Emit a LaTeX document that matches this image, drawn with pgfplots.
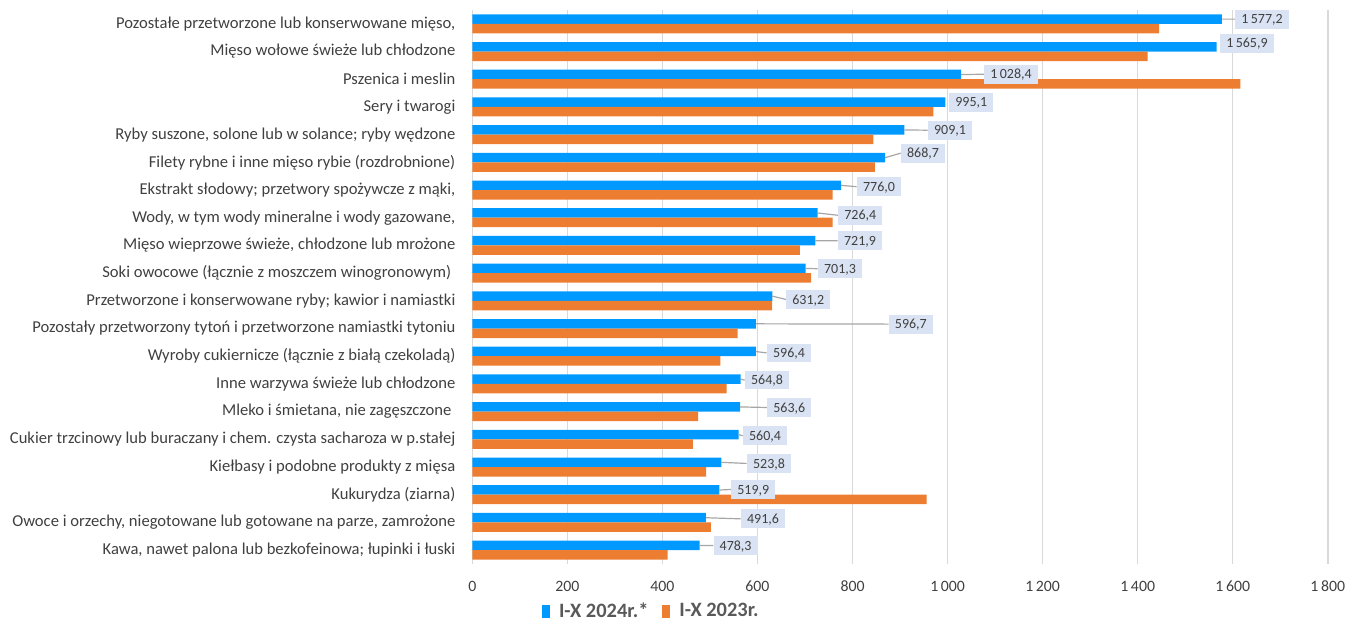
\documentclass[border=0pt]{standalone}
\usepackage{pgfplots}
\pgfplotsset{compat=1.18}
\usepackage{pgfplotstable}
\usepackage{fontspec}
\setmainfont{Carlito}

\definecolor{c24}{HTML}{0099FF}
\definecolor{c23}{HTML}{ED7D31}
\definecolor{lbl}{HTML}{DAE3F3}
\definecolor{grd}{HTML}{D9D9D9}
\definecolor{ldr}{HTML}{A6A6A6}
\definecolor{txt}{HTML}{404040}
\definecolor{leg}{HTML}{595959}

% y = row (0 = bottom), v24 = I-X 2024r.*, v23 = I-X 2023r.
\pgfplotstableread{
y  v24     v23
19 1577.2  1445
18 1565.9  1421
17 1028.4  1616
16  995.1   970
15  909.1   844
14  868.7   847
13  776.0   758
12  726.4   758
11  721.9   689
10  701.3   713
9   631.2   631
8   596.7   558
7   596.4   522
6   564.8   535
5   563.6   475
4   560.4   464
3   523.8   492
2   519.9   956
1   491.6   502
0   478.3   411
}\bars

% data label boxes: left edge lx, centre ly
\pgfplotstableread{
lx      ly     lab
1604.7  19.17  1\,577,2
1573.1  18.30  1\,565,9
1076.6  17.18  1\,028,4
1002.9  16.17  995,1
958.1   15.16  909,1
901.3   14.33  868,7
808.7   13.12  776,0
769.4   12.09  726,4
768.8   11.17  721,9
726.7   10.16  701,3
660.0   9.05   631,2
875.7   8.16   596,7
619.4   7.12   596,4
573.1   6.14   564,8
620.0   5.15   563,6
568.9   4.13   560,4
577.3   3.13   523,8
544.3   2.19   519,9
564.7   1.13   491,6
507.0   0.17   478,3
}\labels

% leader lines from bar end to label box
\pgfplotstableread{
x       y
1577.2  19.17
1604.7  19.17
nan     nan
1028.4  17.17
1076.6  17.18
nan     nan
909.1   15.17
958.1   15.16
nan     nan
868.7   14.17
901.3   14.33
nan     nan
776.0   13.17
808.7   13.12
nan     nan
726.4   12.17
769.4   12.09
nan     nan
721.9   11.17
768.8   11.17
nan     nan
701.3   10.17
726.7   10.16
nan     nan
631.2   9.17
660.0   9.05
nan     nan
596.7   8.17
875.7   8.16
nan     nan
596.4   7.17
619.4   7.12
nan     nan
564.8   6.17
573.1   6.14
nan     nan
563.6   5.17
620.0   5.15
nan     nan
560.4   4.17
568.9   4.13
nan     nan
523.8   3.17
577.3   3.13
nan     nan
519.9   2.17
544.3   2.19
nan     nan
491.6   1.17
564.7   1.13
nan     nan
478.3   0.17
507.0   0.17
}\leaders

\begin{document}
\begin{tikzpicture}
\useasboundingbox (0,0) rectangle (674.5pt,312pt);
\begin{axis}[
  at={(236.15pt,30pt)}, anchor=south west,
  scale only axis, width=427.75pt, height=277pt,
  xmin=0, xmax=1800, ymin=-0.5, ymax=19.5,
  xtick={0,200,...,1800},
  xticklabels={0,200,400,600,800,1\,000,1\,200,1\,400,1\,600,1\,800},
  ytick={0,...,19},
  yticklabels={
    {Kawa, nawet palona lub bezkofeinowa; łupinki i łuski},
    {Owoce i orzechy, niegotowane lub gotowane na parze, zamrożone},
    {Kukurydza (ziarna)},
    {Kiełbasy i podobne produkty z mięsa},
    {Cukier trzcinowy lub buraczany i chem. czysta sacharoza w p.stałej},
    {Mleko i śmietana, nie zagęszczone\kern2pt},
    {Inne warzywa świeże lub chłodzone},
    {Wyroby cukiernicze (łącznie z białą czekoladą)},
    {Pozostały przetworzony tytoń i przetworzone namiastki tytoniu},
    {Przetworzone i konserwowane ryby; kawior i namiastki},
    {Soki owocowe (łącznie z moszczem winogronowym)\kern2pt},
    {Mięso wieprzowe świeże, chłodzone lub mrożone},
    {Wody, w tym wody mineralne i wody gazowane,},
    {Ekstrakt słodowy; przetwory spożywcze z mąki,},
    {Filety rybne i inne mięso rybie (rozdrobnione)},
    {Ryby suszone, solone lub w solance; ryby wędzone},
    {Sery i twarogi},
    {Pszenica i meslin},
    {Mięso wołowe świeże lub chłodzone},
    {Pozostałe przetworzone lub konserwowane mięso,}},
  xmajorgrids, grid style={grd, line width=0.7pt},
  axis line style={draw=none},
  major tick length=0pt, tick style={draw=none},
  xticklabel style={font=\fontsize{7.9}{9}\selectfont, text=txt, anchor=center, yshift=-11pt, inner sep=0pt},
  yticklabel style={font=\fontsize{8.3}{10}\selectfont, text=txt, anchor=east, xshift=-8.3pt, inner sep=0pt},
  unbounded coords=jump,
  clip=false,
  legend columns=2,
  legend style={at={(0.0815,-0.086)}, anchor=west, draw=none, fill=none,
    inner sep=0pt, outer sep=0pt, text=leg,
    font=\bfseries\fontsize{10.2}{11}\selectfont,
    /tikz/every even column/.append style={column sep=5pt}},
  legend cell align=left,
]
\addplot[xbar, bar width=4.75pt, bar shift=2.375pt, fill=c24, draw=none,
  legend image code/.code={\fill[c24] (0pt,-3.2pt) rectangle (4pt,3.2pt); \path (6.5pt,0pt);}]
  table[x=v24, y=y] {\bars};
\addlegendentry{I-X 2024r.*}
\addplot[xbar, bar width=4.75pt, bar shift=-2.375pt, fill=c23, draw=none,
  legend image code/.code={\fill[c23] (0pt,-3.2pt) rectangle (4pt,3.2pt); \path (6.5pt,0pt);}]
  table[x=v23, y=y] {\bars};
\addlegendentry{I-X 2023r.}
\addplot[ldr, line width=0.6pt, mark=none, forget plot] table[x=x, y=y] {\leaders};
\addplot[draw=none, mark=none, forget plot,
  nodes near coords, point meta=explicit symbolic,
  nodes near coords align=horizontal,
  every node near coord/.append style={anchor=west, fill=lbl, text=txt,
    font=\fontsize{7}{8}\selectfont, inner xsep=3pt, inner ysep=2.4pt,
    text height=4.6pt, text depth=0pt}]
  table[x=lx, y=ly, meta=lab] {\labels};
\end{axis}
\end{tikzpicture}
\end{document}
